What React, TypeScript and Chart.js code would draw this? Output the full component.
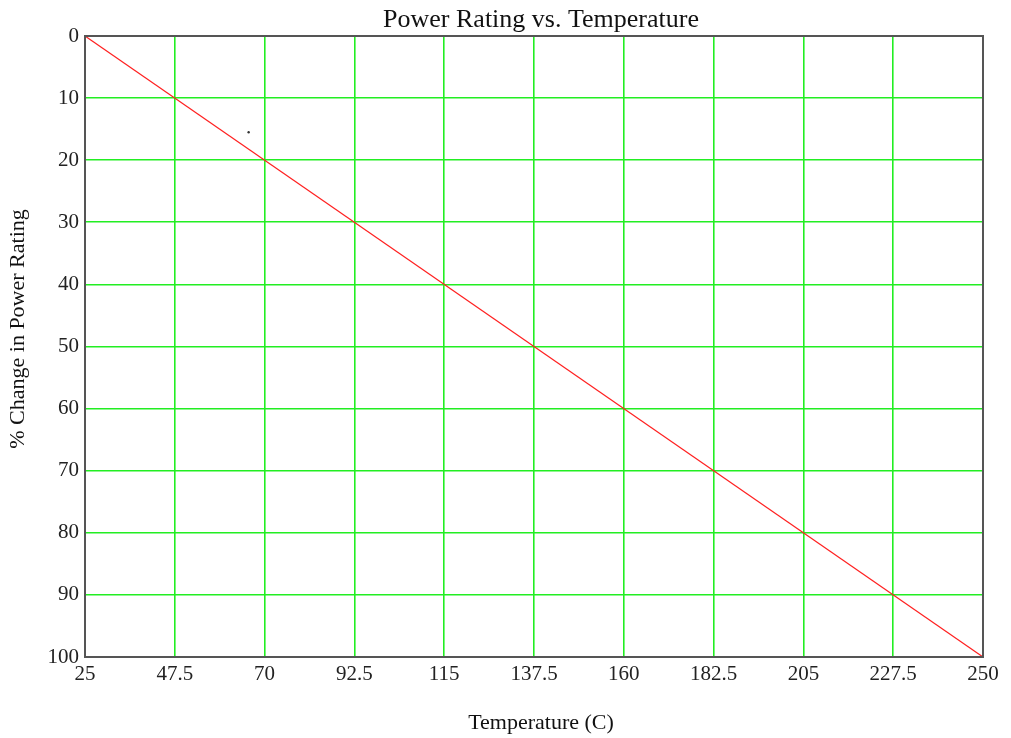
import React, { useEffect, useRef } from "react";
import { Chart, registerables } from "chart.js";

Chart.register(...registerables);

const titleText = "Power Rating vs. Temperature";
const xTitle = "Temperature (C)";
const yTitle = "% Change in Power Rating";
const xTicks = [25, 47.5, 70, 92.5, 115, 137.5, 160, 182.5, 205, 227.5, 250];
const yTicks = [0, 10, 20, 30, 40, 50, 60, 70, 80, 90, 100];
const lineTemps = [25, 250];
const lineChange = [0, 100];
const dotTemp = [66];
const dotChange = [15.5];

const FONT = "'Liberation Serif', 'Times New Roman', serif";

export default function App() {
  const ref = useRef<HTMLCanvasElement | null>(null);
  useEffect(() => {
    if (!ref.current) return;
    const textPlugin = {
      id: "texts",
      afterDraw(chart: any) {
        const { ctx, chartArea } = chart;
        ctx.save();
        ctx.strokeStyle = "#555";
        ctx.lineWidth = 2;
        ctx.strokeRect(chartArea.left, chartArea.top, chartArea.right - chartArea.left, chartArea.bottom - chartArea.top);
        ctx.fillStyle = "#111";
        ctx.textAlign = "center";
        ctx.textBaseline = "alphabetic";
        ctx.font = `26px ${FONT}`;
        ctx.fillText(titleText, 541, 27);
        ctx.textBaseline = "middle";
        ctx.font = `22px ${FONT}`;
        ctx.fillText(xTitle, 541, 723);
        ctx.translate(18, 329);
        ctx.rotate(-Math.PI / 2);
        ctx.fillText(yTitle, 0, 0);
        ctx.restore();
      },
    };
    const chart = new Chart(ref.current, {
      type: "scatter",
      data: {
        datasets: [
          {
            data: lineTemps.map((x, i) => ({ x, y: lineChange[i] })),
            showLine: true,
            borderColor: "#ff2020",
            borderWidth: 1.2,
            pointRadius: 0,
          },
          {
            data: dotTemp.map((x, i) => ({ x, y: dotChange[i] })),
            showLine: false,
            backgroundColor: "#333",
            borderWidth: 0,
            pointRadius: 1.2,
          },
        ],
      },
      options: {
        animation: false,
        responsive: false,
        layout: { padding: { top: 36, right: 28, left: 0, bottom: 0 } },
        plugins: { legend: { display: false }, tooltip: { enabled: false } },
        scales: {
          x: {
            type: "linear",
            min: 25,
            max: 250,
            afterBuildTicks: (s: any) => {
              s.ticks = xTicks.map((v) => ({ value: v }));
            },
            afterFit: (s: any) => {
              s.height = 81;
            },
            grid: { color: "#22ee22", lineWidth: 1.6, drawTicks: false },
            border: { color: "#555", width: 2 },
            ticks: {
              color: "#222",
              font: { family: FONT, size: 21 },
              padding: 5,
              maxRotation: 0,
              autoSkip: false,
              callback: (v: any) => String(v),
            },
          },
          y: {
            type: "linear",
            reverse: true,
            min: 0,
            max: 100,
            afterBuildTicks: (s: any) => {
              s.ticks = yTicks.map((v) => ({ value: v }));
            },
            afterFit: (s: any) => {
              s.width = 85;
            },
            grid: { color: "#22ee22", lineWidth: 1.6, drawTicks: false },
            border: { color: "#555", width: 2 },
            ticks: {
              color: "#222",
              font: { family: FONT, size: 21 },
              padding: 6,
              autoSkip: false,
              callback: (v: any) => String(v),
            },
          },
        },
      },
      plugins: [textPlugin],
    });
    return () => chart.destroy();
  }, []);
  return (
    <div style={{ position: "fixed", left: 0, top: 0, width: 1011, height: 738, background: "#fff" }}>
      <canvas ref={ref} width={1011} height={738} style={{ width: 1011, height: 738 }} />
    </div>
  );
}
